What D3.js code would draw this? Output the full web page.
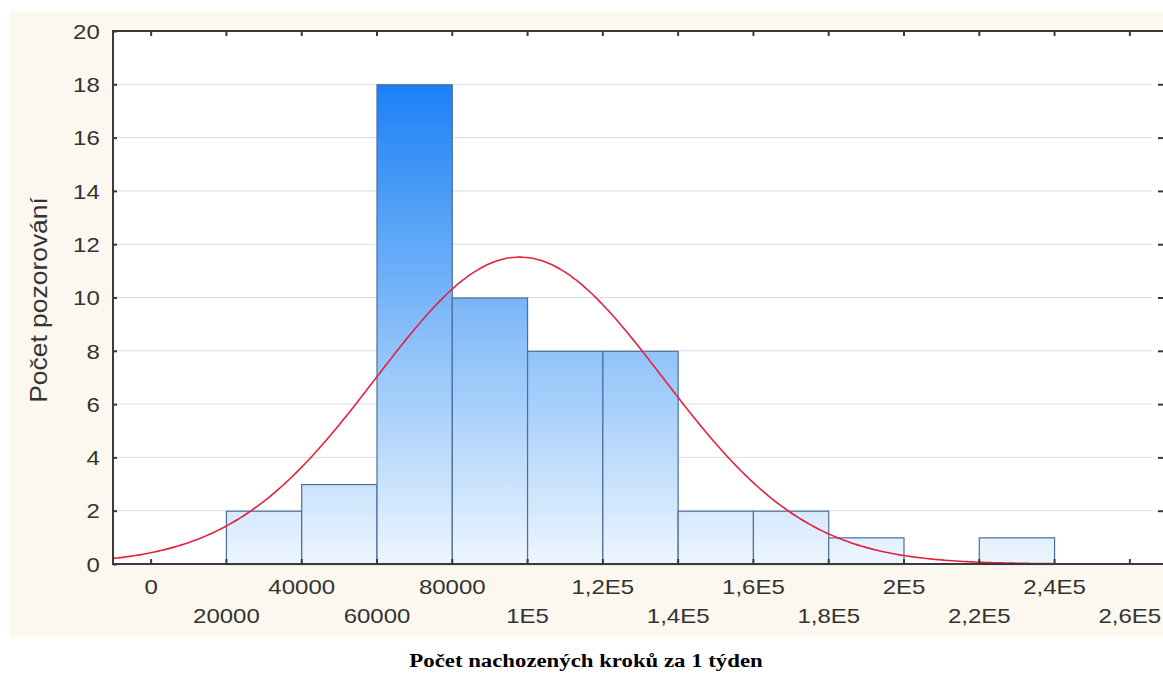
<!DOCTYPE html>
<html>
<head>
<meta charset="utf-8">
<script src="https://cdn.jsdelivr.net/npm/d3@7/dist/d3.min.js"></script>
<style>
  html, body { margin: 0; padding: 0; background: #ffffff; }
  svg { display: block; }
</style>
</head>
<body>
<svg id="chart" width="1163" height="675"></svg>
<script>
// Histogram of weekly step counts (bin width 20 000) with a fitted normal curve
const binStarts = [20000, 40000, 60000, 80000, 100000, 120000, 140000, 160000, 180000, 200000, 220000];
const binCounts = [2, 3, 18, 10, 8, 8, 2, 2, 1, 0, 1];
const binWidth = 20000;

const xTickValues = [0, 20000, 40000, 60000, 80000, 100000, 120000, 140000, 160000, 180000, 200000, 220000, 240000, 260000];
const xTickLabels = ["0", "20000", "40000", "60000", "80000", "1E5", "1,2E5", "1,4E5", "1,6E5", "1,8E5", "2E5", "2,2E5", "2,4E5", "2,6E5"];
const yTickValues = [0, 2, 4, 6, 8, 10, 12, 14, 16, 18, 20];

// Normal fit parameters (sample mean and standard deviation)
const fitMean = 98000;
const fitSd = 38100;
const fitRange = [-10000, 250000];

const yTitle = "Počet pozorování";
const xTitle = "Počet nachozených kroků za 1 týden";

const svg = d3.select("#chart");

const plot = { left: 113, top: 31, right: 1167, bottom: 564 };

const x = d3.scaleLinear().domain([-10000, 270000]).range([plot.left, plot.right]);
const y = d3.scaleLinear().domain([0, 20]).range([plot.bottom, plot.top]);

// Outer panel
svg.append("rect").attr("x", 10).attr("y", 11).attr("width", 1163).attr("height", 626)
  .attr("fill", "#fcf8ef");

// Plot background
svg.append("rect").attr("x", plot.left).attr("y", plot.top)
  .attr("width", plot.right - plot.left).attr("height", plot.bottom - plot.top)
  .attr("fill", "#ffffff");

const defs = svg.append("defs");
const grad = defs.append("linearGradient").attr("id", "barFill")
  .attr("gradientUnits", "userSpaceOnUse")
  .attr("x1", 0).attr("x2", 0).attr("y1", y(18)).attr("y2", y(0));
grad.append("stop").attr("offset", "0%").attr("stop-color", "#1b80f6");
grad.append("stop").attr("offset", "45%").attr("stop-color", "#79b6f8");
grad.append("stop").attr("offset", "100%").attr("stop-color", "#edf6fe");

defs.append("clipPath").attr("id", "plotClip").append("rect")
  .attr("x", plot.left).attr("y", plot.top)
  .attr("width", plot.right - plot.left).attr("height", plot.bottom - plot.top);

// Horizontal grid
svg.append("g").selectAll("line").data(yTickValues.filter(v => v > 0 && v < 20)).join("line")
  .attr("x1", plot.left).attr("x2", 1152)
  .attr("y1", d => y(d)).attr("y2", d => y(d))
  .attr("stroke", "#dcdcdc").attr("stroke-width", 1);

// Bars
const bins = binStarts.map((s, i) => ({ x0: s, x1: s + binWidth, n: binCounts[i] }));
svg.append("g").selectAll("rect").data(bins.filter(b => b.n > 0)).join("rect")
  .attr("x", d => x(d.x0) + 0.5)
  .attr("y", d => y(d.n) + 0.5)
  .attr("width", d => x(d.x1) - x(d.x0))
  .attr("height", d => y(0) - y(d.n))
  .attr("fill", "url(#barFill)")
  .attr("stroke", "#4d6d9e")
  .attr("stroke-width", 1.2);

// Fitted normal curve, scaled to counts per bin
const total = d3.sum(binCounts);
const density = v => total * binWidth / (fitSd * Math.sqrt(2 * Math.PI)) *
  Math.exp(-0.5 * Math.pow((v - fitMean) / fitSd, 2));
const curveX = d3.range(fitRange[0], fitRange[1] + 1, 1000);
svg.append("path")
  .datum(curveX)
  .attr("clip-path", "url(#plotClip)")
  .attr("fill", "none")
  .attr("stroke", "#e4203f")
  .attr("stroke-width", 1.6)
  .attr("d", d3.line().x(d => x(d)).y(d => y(density(d))).curve(d3.curveBasis));

const axisColor = "#3a3a3a";
const labelFont = "'Liberation Sans', Arial, sans-serif";

// Bottom axis with staggered labels
const gx = svg.append("g").attr("transform", `translate(0,${plot.bottom})`)
  .call(d3.axisTop(x).tickValues(xTickValues).tickSize(5).tickFormat(""));
gx.select(".domain").remove();
gx.selectAll(".tick line").attr("stroke", axisColor).attr("stroke-width", 2);
const gxl = svg.append("g").attr("transform", `translate(0,${plot.bottom})`)
  .call(d3.axisBottom(x).tickValues(xTickValues).tickSize(0)
    .tickFormat((d, i) => xTickLabels[i]));
gxl.select(".domain").remove();
gxl.selectAll(".tick text")
  .attr("font-family", labelFont).attr("font-size", 20).attr("fill", "#333")
  .attr("y", (d, i) => i % 2 === 0 ? 25 : 54).attr("dy", 0)
  .attr("dominant-baseline", "middle")
  .attr("transform", "scale(1.2,1)");

// Top axis ticks
const gt = svg.append("g").attr("transform", `translate(0,${plot.top})`)
  .call(d3.axisBottom(x).tickValues(xTickValues).tickSize(5).tickFormat(""));
gt.select(".domain").remove();
gt.selectAll(".tick line").attr("stroke", axisColor).attr("stroke-width", 2);

// Left axis
const gy = svg.append("g").attr("transform", `translate(${plot.left},0)`)
  .call(d3.axisRight(y).tickValues(yTickValues).tickSize(4).tickFormat(""));
gy.select(".domain").remove();
gy.selectAll(".tick line").attr("stroke", axisColor).attr("stroke-width", 2);
const gyl = svg.append("g").attr("transform", `translate(${plot.left},0)`)
  .call(d3.axisLeft(y).tickValues(yTickValues).tickSize(0));
gyl.select(".domain").remove();
gyl.selectAll(".tick text")
  .attr("font-family", labelFont).attr("font-size", 20).attr("fill", "#333")
  .attr("x", -11).attr("dy", "0.36em")
  .attr("transform", "scale(1.2,1)");

// Right edge ticks
const gr = svg.append("g").attr("transform", "translate(1163,0)")
  .call(d3.axisLeft(y).tickValues(yTickValues.filter(v => v > 0 && v < 20)).tickSize(5).tickFormat(""));
gr.select(".domain").remove();
gr.selectAll(".tick line").attr("stroke", axisColor).attr("stroke-width", 2);

// Frame lines
svg.append("line").attr("x1", plot.left).attr("x2", 1163).attr("y1", plot.top).attr("y2", plot.top)
  .attr("stroke", axisColor).attr("stroke-width", 2);
svg.append("line").attr("x1", plot.left).attr("x2", 1163).attr("y1", plot.bottom).attr("y2", plot.bottom)
  .attr("stroke", axisColor).attr("stroke-width", 2);
svg.append("line").attr("x1", plot.left).attr("x2", plot.left).attr("y1", plot.top - 1).attr("y2", plot.bottom + 1)
  .attr("stroke", axisColor).attr("stroke-width", 2);

// Axis titles
svg.append("text")
  .attr("transform", "translate(47,300) rotate(-90) scale(1.15,1)")
  .attr("text-anchor", "middle")
  .attr("font-family", labelFont).attr("font-size", 23).attr("fill", "#333")
  .text(yTitle);

svg.append("text")
  .attr("transform", "translate(586,667) scale(1.2,1)")
  .attr("text-anchor", "middle")
  .attr("font-family", "'Liberation Serif', 'Times New Roman', serif")
  .attr("font-weight", "bold").attr("font-size", 19).attr("fill", "#000")
  .text(xTitle);
</script>
</body>
</html>
